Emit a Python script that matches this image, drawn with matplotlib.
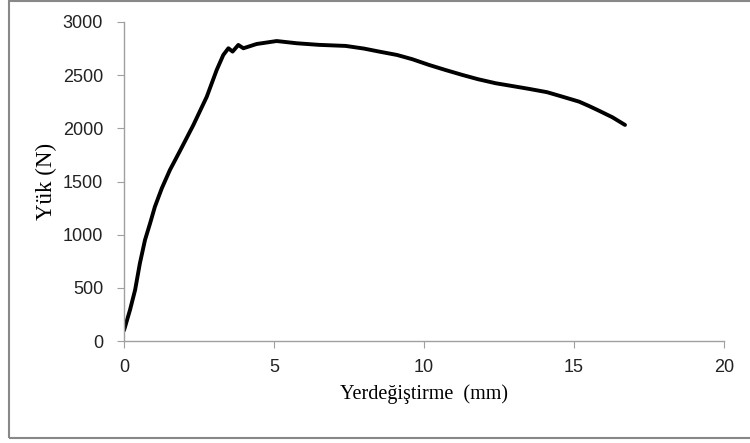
import matplotlib.pyplot as plt
from matplotlib.patches import Rectangle

# Yük - yerdeğiştirme eğrisi
yerdegistirme = [0.0, 0.2, 0.37, 0.53, 0.7, 0.87, 1.03, 1.26, 1.53, 1.87, 2.31,
                 2.76, 3.09, 3.31, 3.48, 3.62, 3.81, 3.98, 4.42, 5.09, 5.76,
                 6.5, 7.39, 8.0, 8.5, 9.1, 9.61, 10.17, 10.7, 11.28, 11.8, 12.39,
                 13.0, 13.5, 14.1, 14.61, 15.17, 15.5, 15.83, 16.28, 16.7]
yuk = [100, 292, 480, 731, 950, 1107, 1263, 1436, 1608, 1790, 2030,
       2298, 2549, 2690, 2753, 2722, 2784, 2753, 2793, 2821, 2800,
       2785, 2775, 2750, 2722, 2690, 2650, 2596, 2550, 2502, 2462, 2424,
       2395, 2371, 2340, 2298, 2251, 2210, 2166, 2104, 2032]

xticks = [0, 5, 10, 15, 20]
yticks = [0, 500, 1000, 1500, 2000, 2500, 3000]

fig = plt.figure(figsize=(7.5, 4.43), dpi=100)
ax = fig.add_axes([124 / 750, 1 - 341 / 443, 600 / 750, 319 / 443])

ax.plot(yerdegistirme, yuk, color='black', linewidth=2.8,
        solid_capstyle='round', solid_joinstyle='round')

ax.set_xlim(0, 20)
ax.set_ylim(0, 3000)
ax.set_xticks(xticks)
ax.set_yticks(yticks)

for s in ['top', 'right']:
    ax.spines[s].set_visible(False)
for s in ['left', 'bottom']:
    ax.spines[s].set_color('#a0a0a0')
    ax.spines[s].set_linewidth(1)

ax.tick_params(axis='both', direction='out', length=5, color='#a0a0a0',
               labelsize=13, labelcolor='#222222')
ax.tick_params(axis='x', pad=8)
ax.tick_params(axis='y', pad=10)
for lbl in ax.get_xticklabels() + ax.get_yticklabels():
    lbl.set_family('Liberation Sans')

ax.set_xlabel('Yerdeğiştirme  (mm)', family='Liberation Serif', fontsize=14.5, labelpad=6)
ax.set_ylabel('Yük (N)', family='Liberation Serif', fontsize=16.5, labelpad=4)

# Grafik çerçevesi
fig.patches.append(Rectangle((9 / 750, 1 - 438 / 443), 760 / 750, 437.5 / 443,
                             transform=fig.transFigure, fill=False,
                             edgecolor='#888888', linewidth=1.5))

fig.savefig('out.png', dpi=100)
